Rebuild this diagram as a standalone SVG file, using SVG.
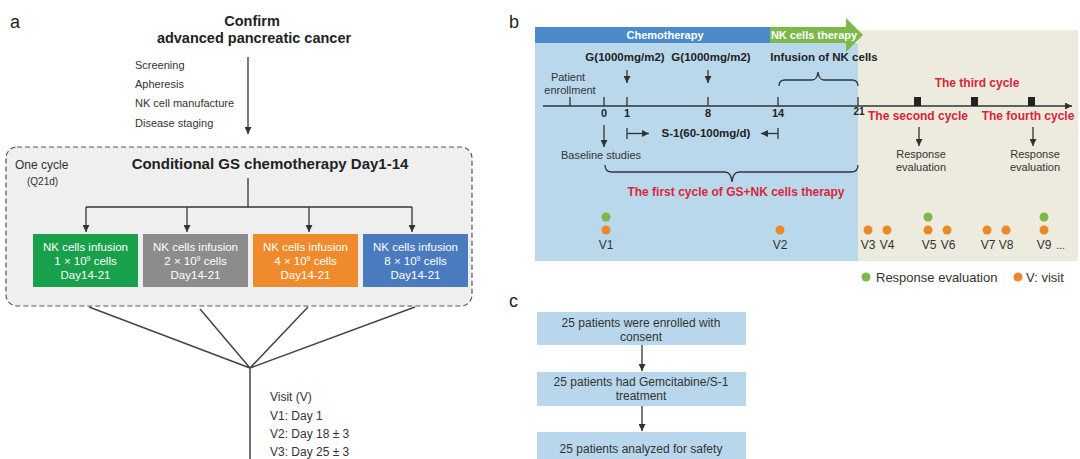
<svg xmlns="http://www.w3.org/2000/svg" width="1080" height="459" viewBox="0 0 1080 459">
<defs>
<style>
text{font-family:"Liberation Sans",Arial,sans-serif;fill:#333}
.lbl{font-size:18px;fill:#222}
.b{font-weight:bold}
.hd{font-size:14.5px;font-weight:bold;fill:#222}
.s11{font-size:11px}
.s12{font-size:12px}
.bx{font-size:11.5px;fill:#fff;text-anchor:middle}
.red{fill:#d7263d;font-weight:bold;font-size:12px}
.num{font-size:11px;font-weight:bold;fill:#222;text-anchor:middle}
.mid{text-anchor:middle}
.ln{stroke:#333;stroke-width:1.3;fill:none}
.ln2{stroke:#444;stroke-width:1.5;fill:none}
.dg{fill:#7cb84a}
.do{fill:#e88a2a}
.cbox{fill:#b9d7ec}
</style>
<marker id="ah" viewBox="0 0 10 10" refX="10" refY="5" markerWidth="7" markerHeight="7" markerUnits="userSpaceOnUse" orient="auto">
<path d="M0,0 L10,5 L0,10 z" fill="#333"/>
</marker>
</defs>

<!-- Panel a -->
<g id="panel-a-label"><text class="lbl" x="10" y="28">a</text></g>
<g id="confirm">
<text class="hd mid" x="252" y="26">Confirm</text>
<text class="hd mid" x="254" y="43">advanced pancreatic cancer</text>
</g>
<g id="prep-steps">
<text class="s11" x="135" y="69">Screening</text>
<text class="s11" x="135" y="88">Apheresis</text>
<text class="s11" x="135" y="107">NK cell manufacture</text>
<text class="s11" x="135" y="127">Disease staging</text>
</g>
<g id="cycle-box">
<rect x="6" y="147" width="466" height="159" rx="11" fill="#efefef" stroke="#555" stroke-width="1.2" stroke-dasharray="5,3"/>
<text class="s12" x="15" y="169">One cycle</text>
<text x="27" y="185" style="font-size:10px">(Q21d)</text>
<text class="hd mid" x="270" y="169" style="font-size:15px">Conditional GS chemotherapy Day1-14</text>
</g>
<g id="nk1">
<rect x="33" y="234" width="105" height="53" fill="#18a04a"/>
<text class="bx" x="85.5" y="251">NK cells infusion</text>
<text class="bx" x="85.5" y="265">1 × 10<tspan dy="-4" style="font-size:7px">9</tspan><tspan dy="4"> cells</tspan></text>
<text class="bx" x="85.5" y="279">Day14-21</text>
</g>
<g id="nk2">
<rect x="143" y="234" width="105" height="53" fill="#8c8c8c"/>
<text class="bx" x="195.5" y="251">NK cells infusion</text>
<text class="bx" x="195.5" y="265">2 × 10<tspan dy="-4" style="font-size:7px">9</tspan><tspan dy="4"> cells</tspan></text>
<text class="bx" x="195.5" y="279">Day14-21</text>
</g>
<g id="nk4">
<rect x="253" y="234" width="105" height="53" fill="#ef8b2c"/>
<text class="bx" x="305.5" y="251">NK cells infusion</text>
<text class="bx" x="305.5" y="265">4 × 10<tspan dy="-4" style="font-size:7px">9</tspan><tspan dy="4"> cells</tspan></text>
<text class="bx" x="305.5" y="279">Day14-21</text>
</g>
<g id="nk8">
<rect x="363" y="234" width="105" height="53" fill="#4a7bbf"/>
<text class="bx" x="415.5" y="251">NK cells infusion</text>
<text class="bx" x="415.5" y="265">8 × 10<tspan dy="-4" style="font-size:7px">9</tspan><tspan dy="4"> cells</tspan></text>
<text class="bx" x="415.5" y="279">Day14-21</text>
</g>
<g id="visits-a">
<text class="s12" x="270" y="401">Visit (V)</text>
<text class="s12" x="270" y="420">V1: Day 1</text>
<text class="s12" x="270" y="438">V2: Day 18 ± 3</text>
<text class="s12" x="270" y="456">V3: Day 25 ± 3</text>
</g>
<g id="connectors-a">
<line class="ln" x1="248" y1="57" x2="248" y2="134" marker-end="url(#ah)"/>
<line class="ln" x1="248" y1="178" x2="248" y2="207"/>
<line class="ln" x1="86" y1="207" x2="412" y2="207"/>
<line class="ln" x1="86" y1="207" x2="86" y2="232" marker-end="url(#ah)"/>
<line class="ln" x1="187" y1="207" x2="187" y2="232" marker-end="url(#ah)"/>
<line class="ln" x1="309" y1="207" x2="309" y2="232" marker-end="url(#ah)"/>
<line class="ln" x1="412" y1="207" x2="412" y2="232" marker-end="url(#ah)"/>
<path class="ln2" d="M89,307 L250,368 M200,309 L250,368 M308,307 L250,368 M415,307 L250,368 M250,368 L250,459"/>
</g>

<!-- Panel b -->
<g id="panel-b-label"><text class="lbl" x="509" y="28">b</text></g>
<g id="backgrounds-b">
<rect x="858" y="30" width="220" height="231" fill="#ecebdd"/>
<rect x="535" y="43" width="323" height="218" fill="#bad8ec"/>
<rect x="535" y="27" width="236" height="16" fill="#4b8bc9"/>
<path d="M770,27 L846,27 L846,18 L863,35 L846,52 L846,43 L770,43 z" fill="#7cb84a"/>
<text class="b mid" x="665" y="39" style="font-size:11px;fill:#fff">Chemotherapy</text>
<text class="b mid" x="814" y="39" style="font-size:11px;fill:#fff">NK cells therapy</text>
</g>
<g id="timeline">
<line x1="543" y1="106" x2="1072" y2="106" stroke="#333" stroke-width="1.4" marker-end="url(#ah)"/>
<path class="ln" d="M570,97 V106 M604,97 V106 M627,97 V106 M708,97 V106 M778,97 V106 M858,97 V106"/>
<rect x="914" y="97" width="7" height="9" fill="#222"/>
<rect x="971" y="97" width="7" height="9" fill="#222"/>
<rect x="1028" y="97" width="7" height="9" fill="#222"/>
<text class="num" x="604" y="117">0</text>
<text class="num" x="627" y="117">1</text>
<text class="num" x="708" y="117">8</text>
<text class="num" x="778" y="117">14</text>
<text class="num" x="859" y="115" style="font-size:10px">21</text>
</g>
<g id="annotations-b">
<text class="s11 mid" x="568" y="81">Patient</text>
<text class="s11 mid" x="570" y="94">enrollment</text>
<text class="b mid" x="625" y="61" style="font-size:11.5px;fill:#222">G(1000mg/m2)</text>
<text class="b mid" x="711" y="61" style="font-size:11.5px;fill:#222">G(1000mg/m2)</text>
<text class="b mid" x="824" y="61" style="font-size:11.5px;fill:#222">Infusion of NK cells</text>
<text class="b mid" x="706" y="137" style="font-size:11.5px;fill:#222">S-1(60-100mg/d)</text>
<text class="s11 mid" x="601" y="159">Baseline studies</text>
<text class="red mid" x="736" y="196">The first cycle of GS+NK cells therapy</text>
<text class="red mid" x="977" y="87">The third cycle</text>
<text class="red mid" x="918" y="120">The second cycle</text>
<text class="red mid" x="1028" y="120">The fourth cycle</text>
<text class="s11 mid" x="921" y="158">Response</text>
<text class="s11 mid" x="921" y="171">evaluation</text>
<text class="s11 mid" x="1035" y="158">Response</text>
<text class="s11 mid" x="1035" y="171">evaluation</text>
</g>
<g id="connectors-b">
<line class="ln" x1="627" y1="70" x2="627" y2="83" marker-end="url(#ah)"/>
<line class="ln" x1="708" y1="70" x2="708" y2="83" marker-end="url(#ah)"/>
<path class="ln" d="M779,86 Q779,80 785,80 L812,80 Q817,80 818,72 Q819,80 824,80 L852,80 Q858,80 858,86"/>
<path class="ln" d="M627,128 V139"/>
<line class="ln" x1="627" y1="133.5" x2="649" y2="133.5" marker-end="url(#ah)"/>
<path class="ln" d="M778,128 V139"/>
<line class="ln" x1="778" y1="133.5" x2="761" y2="133.5" marker-end="url(#ah)"/>
<line class="ln" x1="604" y1="125" x2="604" y2="147" marker-end="url(#ah)"/>
<path class="ln" d="M605,165 Q605,172 612,172 L725,172 Q731,172 732,182 Q733,172 739,172 L851,172 Q858,172 858,165"/>
<line class="ln" x1="919" y1="127" x2="919" y2="146" marker-end="url(#ah)"/>
<line class="ln" x1="1033" y1="127" x2="1033" y2="146" marker-end="url(#ah)"/>
</g>
<g id="visits-b">
<circle class="dg" cx="606" cy="217" r="4.5"/>
<circle class="do" cx="606" cy="230" r="4.5"/>
<circle class="do" cx="780" cy="230" r="4.5"/>
<circle class="do" cx="868" cy="230" r="4.5"/>
<circle class="do" cx="887" cy="230" r="4.5"/>
<circle class="dg" cx="928" cy="217" r="4.5"/>
<circle class="do" cx="928" cy="230" r="4.5"/>
<circle class="do" cx="947" cy="230" r="4.5"/>
<circle class="do" cx="987" cy="230" r="4.5"/>
<circle class="do" cx="1006" cy="230" r="4.5"/>
<circle class="dg" cx="1044" cy="217" r="4.5"/>
<circle class="do" cx="1044" cy="230" r="4.5"/>
<text class="s12 mid" x="606" y="249">V1</text>
<text class="s12 mid" x="780" y="249">V2</text>
<text class="s12 mid" x="868" y="249">V3</text>
<text class="s12 mid" x="887" y="249">V4</text>
<text class="s12 mid" x="929" y="249">V5</text>
<text class="s12 mid" x="948" y="249">V6</text>
<text class="s12 mid" x="988" y="249">V7</text>
<text class="s12 mid" x="1006" y="249">V8</text>
<text class="s12 mid" x="1044" y="249">V9</text>
<text class="s11" x="1056" y="249">...</text>
</g>
<g id="legend-b">
<circle class="dg" cx="866" cy="277" r="4.5"/>
<text x="876" y="282" style="font-size:13px">Response evaluation</text>
<circle class="do" cx="1018" cy="277" r="4.5"/>
<text x="1026" y="282" style="font-size:13px">V: visit</text>
</g>

<!-- Panel c -->
<g id="panel-c-label"><text class="lbl" x="509" y="307">c</text></g>
<g id="c1">
<rect class="cbox" x="537" y="312" width="209" height="33"/>
<text class="s12 mid" x="641" y="327">25 patients were enrolled with</text>
<text class="s12 mid" x="641" y="341">consent</text>
</g>
<g id="c2">
<rect class="cbox" x="537" y="372" width="209" height="34"/>
<text class="s12 mid" x="641" y="386">25 patients had Gemcitabine/S-1</text>
<text class="s12 mid" x="641" y="400">treatment</text>
</g>
<g id="c3">
<rect class="cbox" x="537" y="432" width="209" height="30"/>
<text class="s12 mid" x="641" y="453">25 patients analyzed for safety</text>
</g>
<g id="connectors-c">
<line class="ln" x1="642" y1="345" x2="642" y2="371" marker-end="url(#ah)"/>
<line class="ln" x1="642" y1="406" x2="642" y2="431" marker-end="url(#ah)"/>
</g>
</svg>
